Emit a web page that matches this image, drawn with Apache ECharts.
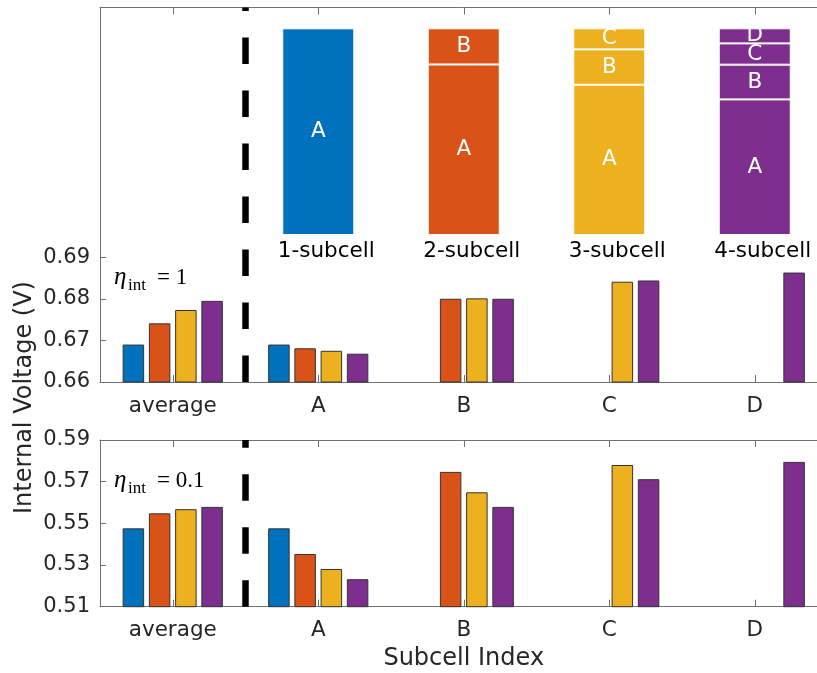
<!DOCTYPE html>
<html>
<head>
<meta charset="utf-8">
<script src="https://cdn.jsdelivr.net/npm/echarts@6/dist/echarts.min.js"></script>
<style>
html, body { margin: 0; padding: 0; background: #fff; }
#main { width: 817px; height: 673px; }
</style>
</head>
<body>
<div id="main"></div>
<script>
// x categories of the two voltage panels
var categories = ['average', 'A', 'B', 'C', 'D'];
// schematic labels (one stack per device)
var cellLabels = ['1-subcell', '2-subcell', '3-subcell', '4-subcell'];
var colors = ['#0072BD', '#D95319', '#EDB120', '#7E2F8E'];

// eta_int = 1
var eta1_cell1 = [0.6690, 0.6690, null, null, null];
var eta1_cell2 = [0.6741, 0.6681, 0.6800, null, null];
var eta1_cell3 = [0.6773, 0.6675, 0.6801, 0.6841, null];
var eta1_cell4 = [0.6795, 0.6668, 0.6800, 0.6844, 0.6863];

// eta_int = 0.1
var eta01_cell1 = [0.5476, 0.5476, null, null, null];
var eta01_cell2 = [0.5548, 0.5353, 0.5747, null, null];
var eta01_cell3 = [0.5568, 0.5281, 0.5649, 0.5780, null];
var eta01_cell4 = [0.5579, 0.5232, 0.5579, 0.5712, 0.5795];

// schematic: relative thickness of the subcell layers
var layerA = [1.000, 0.825, 0.727, 0.656];
var layerB = [null, 0.175, 0.171, 0.168];
var layerC = [null, null, 0.102, 0.103];
var layerD = [null, null, null, 0.073];

var yTicksTop = [0.66, 0.67, 0.68, 0.69];
var yTicksBottom = [0.51, 0.53, 0.55, 0.57, 0.59];

var font = 'DejaVu Sans';
var txt = '#262626';
var axisGray = '#707070';

var myChart = echarts.init(document.getElementById('main'), null, { renderer: 'canvas' });

function catAxis(grid, pos, showLabel, extra) {
    var a = {
        type: 'category', gridIndex: grid, position: pos, data: categories,
        axisLine: { show: true, lineStyle: { color: axisGray, width: 1 } },
        axisTick: { show: true, inside: true, length: 7, alignWithLabel: true, lineStyle: { color: axisGray } },
        axisLabel: { show: showLabel, margin: 13, fontFamily: font, fontSize: 21.5, color: txt },
        splitLine: { show: false }
    };
    for (var k in extra) a[k] = extra[k];
    return a;
}

function valAxis(grid, min, max, ticks) {
    return {
        type: 'value', gridIndex: grid, min: min, max: max,
        axisLine: { show: true, lineStyle: { color: axisGray, width: 1 } },
        axisTick: { show: true, inside: true, length: 6, customValues: ticks, lineStyle: { color: axisGray } },
        axisLabel: { show: true, margin: 10, customValues: ticks, fontFamily: font, fontSize: 21, color: txt,
            formatter: function (v) { return v.toFixed(2); } },
        splitLine: { show: false }
    };
}

function dataBar(name, data, idx, xi, yi) {
    return {
        name: name, type: 'bar', xAxisIndex: xi, yAxisIndex: yi, data: data,
        barWidth: 21.5, barGap: '22%',
        itemStyle: { color: colors[idx], borderColor: '#333', borderWidth: 1 }
    };
}

function layer(letter, data) {
    return {
        type: 'bar', stack: 'layers', xAxisIndex: 0, yAxisIndex: 0, data: data, barWidth: 72,
        itemStyle: {
            color: function (p) { return colors[p.dataIndex]; },
            borderColor: '#fff', borderWidth: 1
        },
        label: { show: true, position: 'inside', formatter: letter, color: '#fff', fontFamily: font, fontSize: 21.5 }
    };
}

var option = {
    animation: false,
    backgroundColor: '#fff',
    grid: [
        { left: 245.5, width: 582, top: 28.3, height: 206.7, outerBoundsMode: 'none' },
        { left: 100, width: 727.5, top: 7.5, height: 374.5, outerBoundsMode: 'none' },
        { left: 100, width: 727.5, top: 440, height: 166.7, outerBoundsMode: 'none' }
    ],
    xAxis: [
        {
            type: 'category', gridIndex: 0, data: cellLabels,
            axisLine: { show: false }, axisTick: { show: false },
            axisLabel: { margin: 5, padding: [0, 0, 0, 16], fontFamily: font, fontSize: 21.5, color: '#000' }
        },
        catAxis(1, 'bottom', true, {}),
        catAxis(1, 'top', false, {}),
        catAxis(2, 'bottom', true, {
            name: 'Subcell Index', nameLocation: 'middle', nameGap: 40,
            nameTextStyle: { fontFamily: font, fontSize: 24, color: txt }
        }),
        catAxis(2, 'top', false, {})
    ],
    yAxis: [
        { type: 'value', gridIndex: 0, min: 0, max: 1, show: false },
        valAxis(1, 0.66, 0.75, yTicksTop),
        valAxis(2, 0.51, 0.59, yTicksBottom)
    ],
    series: [
        layer('A', layerA),
        layer('B', layerB),
        layer('C', layerC),
        layer('D', layerD),
        dataBar('1-subcell', eta1_cell1, 0, 1, 1),
        dataBar('2-subcell', eta1_cell2, 1, 1, 1),
        dataBar('3-subcell', eta1_cell3, 2, 1, 1),
        dataBar('4-subcell', eta1_cell4, 3, 1, 1),
        dataBar('1-subcell', eta01_cell1, 0, 3, 2),
        dataBar('2-subcell', eta01_cell2, 1, 3, 2),
        dataBar('3-subcell', eta01_cell3, 2, 3, 2),
        dataBar('4-subcell', eta01_cell4, 3, 3, 2)
    ]
};

myChart.setOption(option);

// dashed separator between "average" and the subcells, placed from the axes
var xd = (myChart.convertToPixel({ xAxisIndex: 1 }, 'average') + myChart.convertToPixel({ xAxisIndex: 1 }, 'A')) / 2;
var yb1 = myChart.convertToPixel({ yAxisIndex: 1 }, 0.66), yt1 = myChart.convertToPixel({ yAxisIndex: 1 }, 0.75);
var yb2 = myChart.convertToPixel({ yAxisIndex: 2 }, 0.51), yt2 = myChart.convertToPixel({ yAxisIndex: 2 }, 0.59);
var dash = { stroke: '#000', lineWidth: 6.5, lineDash: [26.5, 26.5] };

var serif = '"Liberation Serif"';
function etaLabel(y, valueText) {
    return [
        { type: 'text', x: 114, y: y - 1, z: 50, style: { text: 'η', font: 'italic 25px ' + serif, fill: '#000', verticalAlign: 'middle' } },
        { type: 'text', x: 128, y: y + 8, z: 50, style: { text: 'int', font: '17px ' + serif, fill: '#000', verticalAlign: 'middle' } },
        { type: 'text', x: 157, y: y, z: 50, style: { text: valueText, font: '23px ' + serif, fill: '#000', verticalAlign: 'middle' } }
    ];
}

myChart.setOption({
    graphic: {
        elements: [
            { type: 'line', z: 100, shape: { x1: xd, y1: yb1, x2: xd, y2: yt1 }, style: dash },
            { type: 'line', z: 100, shape: { x1: xd, y1: yb2, x2: xd, y2: yt2 }, style: dash },
            { type: 'text', x: 24.5, y: 397.5, rotation: Math.PI / 2, z: 50,
              style: { text: 'Internal Voltage (V)', font: '24px "DejaVu Sans"', fill: txt, align: 'center', verticalAlign: 'middle' } }
        ].concat(etaLabel(278, '= 1')).concat(etaLabel(481, '= 0.1'))
    }
});

myChart.on('click', function (params) {
    console.log(params);
});
</script>
</body>
</html>
